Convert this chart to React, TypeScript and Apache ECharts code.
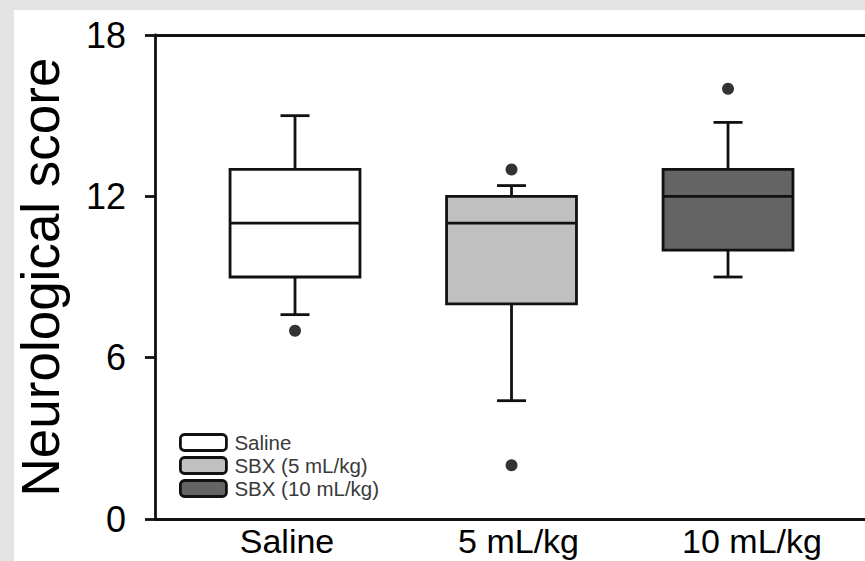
import React, { useEffect, useRef } from "react";
import * as echarts from "echarts";

const categories = ["Saline", "5 mL/kg", "10 mL/kg"];
const groupNames = ["Saline", "SBX (5 mL/kg)", "SBX (10 mL/kg)"];
const groupColors = ["#ffffff", "#c0c0c0", "#646464"];
const whiskerLow = [7.6, 4.4, 9];
const quartile1 = [9, 8, 10];
const medians = [11, 11, 12];
const quartile3 = [13, 12, 13];
const whiskerHigh = [15, 12.4, 14.75];
const outlierGroup = [1, 2, 2, 3];
const outlierValue = [7, 13, 2, 16];
const yTicks = [0, 6, 12, 18];

const FONT = "'Liberation Sans', Arial, sans-serif";
const INK = "#111111";
const LW = 2.8;
// horizontal nudges of the category labels (px), as drawn in the original figure
const labelShift = [-8, 7, 24];

export default function App() {
  const ref = useRef<HTMLDivElement>(null);
  useEffect(() => {
    if (!ref.current) return;
    const chart = echarts.init(ref.current, undefined, { renderer: "svg" });
    const xMin = 0.3533;
    const xMax = 3.6327;

    const boxSeries = groupNames.map((name, i) => ({
      type: "custom",
      name,
      xAxisIndex: 0,
      yAxisIndex: 0,
      itemStyle: { color: groupColors[i] },
      encode: { x: 0, y: [1, 2, 3, 4, 5] },
      data: [[i + 1, whiskerLow[i], quartile1[i], medians[i], quartile3[i], whiskerHigh[i]]],
      renderItem: (params: any, api: any) => {
        const x = api.value(0);
        const lo = api.coord([x, api.value(1)]);
        const q1 = api.coord([x, api.value(2)]);
        const md = api.coord([x, api.value(3)]);
        const q3 = api.coord([x, api.value(4)]);
        const hi = api.coord([x, api.value(5)]);
        const band = api.size([1, 0])[0];
        const bw = band * 0.6;
        const cw = band * 0.134;
        const cx = md[0];
        const ls = { stroke: INK, lineWidth: LW };
        return {
          type: "group",
          children: [
            { type: "line", shape: { x1: cx, y1: hi[1], x2: cx, y2: q3[1] }, style: ls },
            { type: "line", shape: { x1: cx, y1: q1[1], x2: cx, y2: lo[1] }, style: ls },
            { type: "line", shape: { x1: cx - cw / 2, y1: hi[1], x2: cx + cw / 2, y2: hi[1] }, style: ls },
            { type: "line", shape: { x1: cx - cw / 2, y1: lo[1], x2: cx + cw / 2, y2: lo[1] }, style: ls },
            {
              type: "rect",
              shape: { x: cx - bw / 2, y: q3[1], width: bw, height: q1[1] - q3[1] },
              style: { fill: api.visual("color"), stroke: INK, lineWidth: LW },
            },
            { type: "line", shape: { x1: cx - bw / 2, y1: md[1], x2: cx + bw / 2, y2: md[1] }, style: ls },
          ],
        };
      },
    }));

    const rich: Record<string, any> = {};
    labelShift.forEach((s, i) => {
      rich["c" + i] = {
        fontFamily: FONT,
        fontSize: 34,
        color: "#000",
        padding: s >= 0 ? [0, 0, 0, 2 * s] : [0, -2 * s, 0, 0],
      };
    });

    chart.setOption({
      animation: false,
      backgroundColor: "transparent",
      grid: { left: 155, right: 0, top: 35, bottom: 42, outerBoundsMode: "none", containLabel: false },
      legend: {
        orient: "vertical",
        left: 174,
        top: 427,
        itemWidth: 46,
        itemHeight: 16,
        itemGap: 2,
        textStyle: { fontFamily: FONT, fontSize: 20.5, color: "#3a3a3a", lineHeight: 16, padding: [0, 0, 0, 3] },
        data: groupNames.map((n, i) => ({
          name: n,
          icon: "roundRect",
          itemStyle: { color: groupColors[i], borderColor: INK, borderWidth: LW },
        })),
      },
      xAxis: [
        {
          type: "value",
          position: "bottom",
          min: xMin,
          max: xMax,
          axisLine: { show: true, lineStyle: { color: INK, width: LW } },
          axisTick: { show: false },
          splitLine: { show: false },
          axisLabel: {
            customValues: [1, 2, 3],
            formatter: (v: number) => {
              const k = Math.round(v) - 1;
              return categories[k] ? `{c${k}|${categories[k]}}` : "";
            },
            rich,
            fontFamily: FONT,
            fontSize: 34,
            color: "#000",
            margin: 5,
          },
        },
        {
          type: "value",
          position: "top",
          min: xMin,
          max: xMax,
          axisLine: { show: true, lineStyle: { color: INK, width: LW } },
          axisTick: { show: false },
          splitLine: { show: false },
          axisLabel: { show: false },
        },
      ],
      yAxis: {
        type: "value",
        min: 0,
        max: 18,
        interval: 6,
        name: "Neurological score",
        nameLocation: "middle",
        nameRotate: 90,
        nameGap: 92,
        nameTextStyle: { fontFamily: FONT, fontSize: 53, lineHeight: 46, color: "#000" },
        axisLine: { show: true, lineStyle: { color: INK, width: LW } },
        axisTick: { show: true, inside: false, length: 10, lineStyle: { color: INK, width: LW } },
        splitLine: { show: false },
        axisLabel: {
          customValues: yTicks,
          fontFamily: FONT,
          fontSize: 36,
          color: "#000",
          margin: 29,
        },
      },
      series: [
        ...boxSeries,
        {
          type: "scatter",
          name: "outliers",
          xAxisIndex: 0,
          yAxisIndex: 0,
          symbol: "circle",
          symbolSize: 12,
          itemStyle: { color: "#000" },
          data: outlierGroup.map((g, i) => [g, outlierValue[i]]),
        },
      ],
    });
    return () => chart.dispose();
  }, []);

  return (
    <div style={{ position: "absolute", left: 0, top: 0, width: 865, height: 561, background: "#e3e3e3" }}>
      <div style={{ position: "absolute", left: 14, top: 10, width: 851, height: 551, background: "#fff" }} />
      <div ref={ref} style={{ position: "absolute", left: 0, top: 0, width: 865, height: 561 }} />
    </div>
  );
}
